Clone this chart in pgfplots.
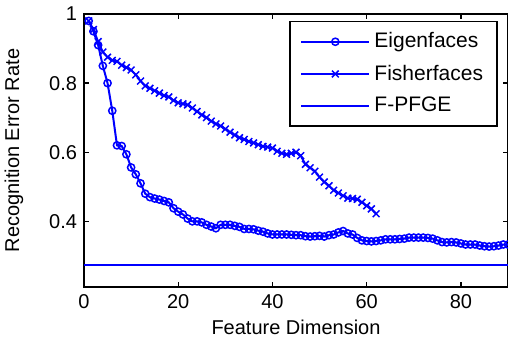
\documentclass[border=0pt]{standalone}
\usepackage{fontspec}
\setmainfont{Liberation Sans}
\usepackage{pgfplots}
\pgfplotsset{compat=1.18}
\definecolor{mblue}{RGB}{0,0,255}

\pgfplotstableread{
x y
1 0.98
2 0.95
3 0.91
4 0.85
5 0.80
6 0.72
7 0.62
8 0.618
9 0.594
10 0.556
11 0.536
12 0.510
13 0.480
14 0.470
15 0.466
16 0.463
17 0.459
18 0.455
19 0.438
20 0.428
21 0.420
22 0.408
23 0.400
24 0.400
25 0.397
26 0.390
27 0.385
28 0.380
29 0.390
30 0.390
31 0.390
32 0.387
33 0.384
34 0.378
35 0.378
36 0.377
37 0.373
38 0.370
39 0.365
40 0.362
41 0.362
42 0.362
43 0.362
44 0.361
45 0.360
46 0.360
47 0.357
48 0.356
49 0.357
50 0.358
51 0.356
52 0.360
53 0.362
54 0.368
55 0.372
56 0.365
57 0.362
58 0.352
59 0.345
60 0.343
61 0.342
62 0.343
63 0.345
64 0.348
65 0.348
66 0.348
67 0.349
68 0.350
69 0.353
70 0.353
71 0.353
72 0.353
73 0.352
74 0.350
75 0.345
76 0.340
77 0.339
78 0.340
79 0.339
80 0.336
81 0.333
82 0.333
83 0.333
84 0.330
85 0.328
86 0.327
87 0.328
88 0.330
89 0.333
90 0.333
}\eigen

\pgfplotstableread{
x y
1 0.98
2 0.955
3 0.92
4 0.89
5 0.875
6 0.866
7 0.863
8 0.852
9 0.845
10 0.838
11 0.824
12 0.806
13 0.792
14 0.785
15 0.778
16 0.771
17 0.764
18 0.760
19 0.750
20 0.743
21 0.740
22 0.737
23 0.728
24 0.718
25 0.708
26 0.700
27 0.690
28 0.682
29 0.676
30 0.667
31 0.658
32 0.650
33 0.642
34 0.637
35 0.631
36 0.627
37 0.622
38 0.617
39 0.615
40 0.612
41 0.603
42 0.597
43 0.594
44 0.597
45 0.600
46 0.590
47 0.565
48 0.555
49 0.545
50 0.528
51 0.514
52 0.503
53 0.490
54 0.482
55 0.474
56 0.467
57 0.466
58 0.464
59 0.455
60 0.445
61 0.436
62 0.422
}\fisher

\begin{document}
\begin{tikzpicture}
\begin{axis}[
  at={(0,0)}, anchor=south west,
  scale only axis,
  width=212pt, height=136.5pt,
  xmin=0, xmax=90, ymin=0.21, ymax=1,
  xtick={0,20,40,60,80},
  ytick={0.4,0.6,0.8,1},
  yticklabels={0.4,0.6,0.8,1},
  xticklabels={0,20,40,60,80},
  tick align=inside,
  major tick length=2.5pt,
  axis line style={black, line width=0.8pt},
  every tick/.style={black, line width=0.7pt},
  font=\fontsize{10}{12}\selectfont,
  /pgf/number format/assume math mode=true,
  xlabel={Feature Dimension},
  ylabel={Recognition Error Rate},
  xlabel style={at={(axis description cs:0.5,-0.147)}, anchor=center},
  ylabel style={at={(axis description cs:-0.165,0.5)}, anchor=center},
  legend cell align=left,
  legend style={at={(axis description cs:0.976,0.975)}, anchor=north east,
    draw=black, line width=0.8pt, inner xsep=5pt, inner ysep=3.5pt,
    row sep=3pt, font=\fontsize{10.5}{12}\selectfont},
  legend image code/.code={\draw[#1, mark repeat=2, mark phase=2] plot coordinates {(0cm,0cm) (0.6cm,0cm) (1.2cm,0cm)};},
]
\addplot[mblue, line width=1pt, mark=o, mark size=1.8pt, mark options={line width=0.75pt}] table[x=x,y=y] {\eigen};
\addlegendentry{Eigenfaces}
\addplot[mblue, line width=1pt, mark=x, mark size=2.4pt, mark options={line width=0.75pt}] table[x=x,y=y] {\fisher};
\addlegendentry{Fisherfaces}
\addplot[mblue, line width=1pt, no markers] coordinates {(0,0.273) (90,0.273)};
\addlegendentry{F-PFGE}
\end{axis}
\pgfresetboundingbox
\useasboundingbox (-42pt,-31pt) rectangle (212pt,143.5pt);
\end{tikzpicture}
\end{document}
